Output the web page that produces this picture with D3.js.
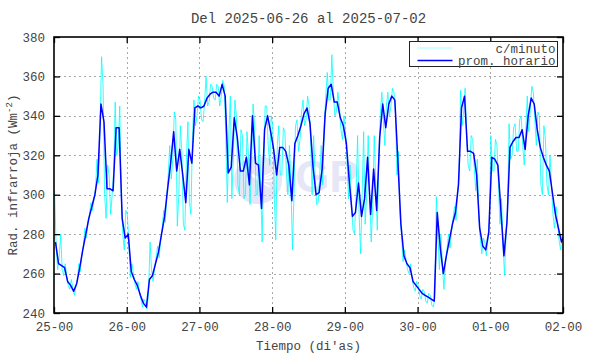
<!DOCTYPE html>
<html>
<head>
<meta charset="utf-8">
<script src="https://cdn.jsdelivr.net/npm/d3@7"></script>
<style>
  body { margin: 0; background: #fff; }
  text { font-family: "Liberation Mono", "DejaVu Sans Mono", monospace; fill: #444; }
</style>
</head>
<body>
<div id="chart"></div>
<script>
// etiquetas de dias (cada 24 h desde 25-00)
const dayLabels = ["25-00", "26-00", "27-00", "28-00", "29-00", "30-00", "01-00", "02-00"];
const yTickValues = [240, 260, 280, 300, 320, 340, 360, 380];

// promedio horario (Wm-2), una hora por valor desde 25-00
const promHorario = [
  276, 265, 264, 263, 256, 254, 251, 255, 263, 272, 280, 288, 294, 300, 310, 346, 337, 303, 303, 302, 334, 334, 288, 278,
  280, 261, 257, 254, 249, 245, 243, 257, 259, 265, 271, 280, 289, 303, 316, 332, 312, 323, 310, 296, 323, 316, 344, 345,
  344, 345, 349, 351, 352, 352, 350, 356, 350, 311, 314, 339, 329, 312, 312, 319, 305, 340, 316, 315, 293, 333, 340, 332,
  323, 310, 324, 324, 322, 315, 297, 326, 330, 335, 341, 344, 336, 314, 300, 301, 313, 341, 354, 356, 347, 347, 339, 335,
  326, 306, 289, 291, 306, 289, 298, 319, 290, 313, 292, 329, 346, 334, 346, 350, 348, 317, 285, 269, 265, 263, 256, 254,
  252, 250, 249, 248, 247, 246, 291, 273, 260, 269, 277, 285, 291, 305, 344, 350, 322, 322, 321, 310, 283, 274, 272, 281,
  319, 318, 315, 292, 269, 286, 324, 327, 329, 329, 333, 323, 340, 349, 346, 333, 324, 319, 315, 312, 301, 290, 283, 276,
  280
];

// datos por minuto: maximo y minimo de cada hora
const cMinutoMax = [
  302, 268, 280, 265, 258, 257, 253, 257, 265, 274, 283, 290, 296, 303, 318, 370, 355, 315, 310, 312, 347, 345, 300, 292,
  290, 265, 260, 256, 251, 247, 245, 276, 262, 268, 274, 283, 292, 310, 325, 342, 338, 335, 322, 318, 337, 330, 348, 350,
  348, 347, 360, 356, 355, 356, 355, 358, 355, 330, 350, 348, 340, 333, 330, 332, 320, 346, 335, 330, 305, 345, 345, 340,
  335, 325, 335, 334, 332, 325, 305, 335, 338, 342, 348, 350, 345, 330, 308, 310, 325, 350, 362, 371, 352, 352, 345, 340,
  332, 315, 295, 300, 330, 300, 332, 330, 300, 330, 305, 340, 352, 345, 352, 354, 352, 322, 290, 272, 267, 265, 258, 256,
  254, 252, 251, 250, 249, 248, 299, 280, 264, 272, 280, 288, 294, 310, 353, 354, 330, 330, 328, 318, 290, 278, 276, 286,
  330, 328, 325, 298, 275, 292, 336, 334, 336, 338, 340, 332, 350, 355, 352, 342, 340, 335, 328, 320, 305, 294, 286, 279
];
const cMinutoMin = [
  274, 262, 262, 259, 254, 252, 249, 253, 261, 270, 278, 286, 292, 298, 306, 335, 300, 288, 290, 300, 320, 325, 280, 272,
  276, 258, 255, 252, 247, 243, 242, 250, 256, 263, 268, 277, 286, 298, 308, 318, 284, 300, 285, 282, 296, 290, 335, 340,
  338, 337, 345, 347, 349, 348, 345, 350, 330, 296, 298, 320, 305, 300, 298, 300, 295, 315, 300, 300, 276, 315, 325, 315,
  300, 277, 310, 310, 312, 300, 272, 300, 322, 328, 335, 338, 328, 300, 295, 296, 305, 335, 348, 348, 340, 342, 333, 328,
  318, 298, 282, 280, 290, 270, 285, 300, 276, 295, 282, 318, 338, 325, 340, 345, 342, 310, 280, 266, 262, 260, 253, 251,
  249, 247, 246, 245, 244, 243, 280, 262, 252, 265, 273, 281, 287, 300, 335, 342, 315, 312, 314, 302, 278, 270, 269, 277,
  312, 312, 305, 285, 259, 280, 318, 320, 322, 322, 325, 315, 332, 343, 338, 325, 305, 300, 305, 300, 290, 283, 277, 272
];

const width = 590, height = 354;
const margin = { top: 37, right: 27, bottom: 41, left: 54 };
const chartWidth = width - margin.left - margin.right;
const chartHeight = height - margin.top - margin.bottom;

const svg = d3.select('#chart').append('svg')
  .attr('width', width)
  .attr('height', height)
  .style('background', '#fff');

const x = d3.scaleLinear().domain([0, 168]).range([0, chartWidth]);
const y = d3.scaleLinear().domain([240, 380]).range([chartHeight, 0]);
const dayTicks = dayLabels.map((d, i) => i * 24);

const g = svg.append('g').attr('transform', `translate(${margin.left},${margin.top})`);

svg.append('defs').append('clipPath').attr('id', 'clip')
  .append('rect').attr('width', chartWidth).attr('height', chartHeight);

// grid punteado
const grid = g.append('g').attr('stroke', '#a8a8a8').attr('stroke-width', 1).attr('stroke-dasharray', '2,3');
dayTicks.slice(1, -1).forEach(t => {
  grid.append('line').attr('x1', Math.round(x(t)) + 0.5).attr('x2', Math.round(x(t)) + 0.5)
    .attr('y1', 0).attr('y2', chartHeight);
});
yTickValues.slice(1, -1).forEach(v => {
  grid.append('line').attr('x1', 0).attr('x2', chartWidth)
    .attr('y1', Math.round(y(v)) + 0.5).attr('y2', Math.round(y(v)) + 0.5);
});

// marca de agua IGP
const wm = g.append('g').attr('opacity', 0.45);
wm.append('circle').attr('cx', 204).attr('cy', 143).attr('r', 24).attr('fill', '#c8c8ec');
[0, 1, 2, 3].forEach(i => {
  wm.append('path')
    .attr('d', `M${186 + i * 4},${128 + i * 3} Q${204},${150 - i * 2} ${222 - i * 2},${132 + i * 6}`)
    .attr('fill', 'none').attr('stroke', '#fff').attr('stroke-width', 1.6);
});
wm.append('text').attr('x', 229).attr('y', 155)
  .style('font-family', '"Liberation Sans", Arial, sans-serif')
  .style('font-weight', 'bold').style('font-size', '44px')
  .style('fill', '#c8c8ec').text('IGP');

const plot = g.append('g').attr('clip-path', 'url(#clip)');

// c/minuto: recorre max y min de cada hora
const minutePts = [];
cMinutoMax.forEach((hi, h) => {
  const lo = cMinutoMin[h];
  if (h % 2 === 0) { minutePts.push([h + 0.2, hi], [h + 0.7, lo]); }
  else { minutePts.push([h + 0.2, lo], [h + 0.7, hi]); }
});

const line = d3.line().x(d => x(d[0])).y(d => y(d[1]));

plot.append('path')
  .datum(minutePts)
  .attr('d', line)
  .attr('fill', 'none')
  .attr('stroke', '#00ffff')
  .attr('stroke-width', 0.8);

plot.append('path')
  .datum(promHorario.map((v, h) => [h + 0.5, v]))
  .attr('d', line)
  .attr('fill', 'none')
  .attr('stroke', '#0000ff')
  .attr('stroke-width', 1.5)
  .attr('stroke-linejoin', 'round');

// ejes con ticks hacia dentro
function styleAxis(sel) {
  sel.select('.domain').remove();
  sel.selectAll('.tick line').attr('stroke', '#000').attr('stroke-width', 1.3);
  sel.selectAll('.tick text').style('font-size', '12.5px').style('fill', '#444');
}

g.append('g')
  .attr('transform', `translate(0,${chartHeight})`)
  .call(d3.axisBottom(x).tickValues(dayTicks).tickFormat((d, i) => dayLabels[i]).tickSize(-6).tickPadding(9))
  .call(styleAxis);
g.append('g')
  .call(d3.axisTop(x).tickValues(dayTicks).tickFormat('').tickSize(-6))
  .call(styleAxis);
g.append('g')
  .call(d3.axisLeft(y).tickValues(yTickValues).tickSize(-6).tickPadding(9))
  .call(styleAxis);
g.append('g')
  .attr('transform', `translate(${chartWidth},0)`)
  .call(d3.axisRight(y).tickValues(yTickValues).tickFormat('').tickSize(-6))
  .call(styleAxis);

g.append('rect')
  .attr('width', chartWidth).attr('height', chartHeight)
  .attr('fill', 'none').attr('stroke', '#000').attr('stroke-width', 1.6);

// titulos
svg.append('text')
  .attr('x', margin.left + chartWidth / 2).attr('y', 23)
  .attr('text-anchor', 'middle').style('font-size', '14px')
  .text('Del 2025-06-26 al 2025-07-02');

svg.append('text')
  .attr('x', margin.left + chartWidth / 2).attr('y', 350)
  .attr('text-anchor', 'middle').style('font-size', '12.5px')
  .text("Tiempo (di'as)");

const yTitle = svg.append('text')
  .attr('transform', `translate(17,${margin.top + chartHeight / 2}) rotate(-90)`)
  .attr('text-anchor', 'middle').style('font-size', '12.5px');
yTitle.append('tspan').text('Rad. infrarroja (Wm');
yTitle.append('tspan').attr('dy', -5).style('font-size', '9px').text('-2');
yTitle.append('tspan').attr('dy', 5).text(')');

// leyenda
const legend = svg.append('g').attr('transform', 'translate(409.5,41.5)');
legend.append('rect').attr('width', 148).attr('height', 25)
  .attr('fill', '#fff').attr('stroke', '#222').attr('stroke-width', 1);
const legendItems = [
  { label: 'c/minuto', color: '#9fffff', w: 1 },
  { label: 'prom. horario', color: '#0000ff', w: 1.5 }
];
legendItems.forEach((it, i) => {
  const yy = 6.5 + i * 12.5;
  legend.append('line').attr('x1', 8).attr('x2', 43).attr('y1', yy).attr('y2', yy)
    .attr('stroke', it.color).attr('stroke-width', it.w);
  legend.append('text').attr('x', 146).attr('y', yy + 4.5)
    .attr('text-anchor', 'end').style('font-size', '12.5px').text(it.label);
});
</script>
</body>
</html>
